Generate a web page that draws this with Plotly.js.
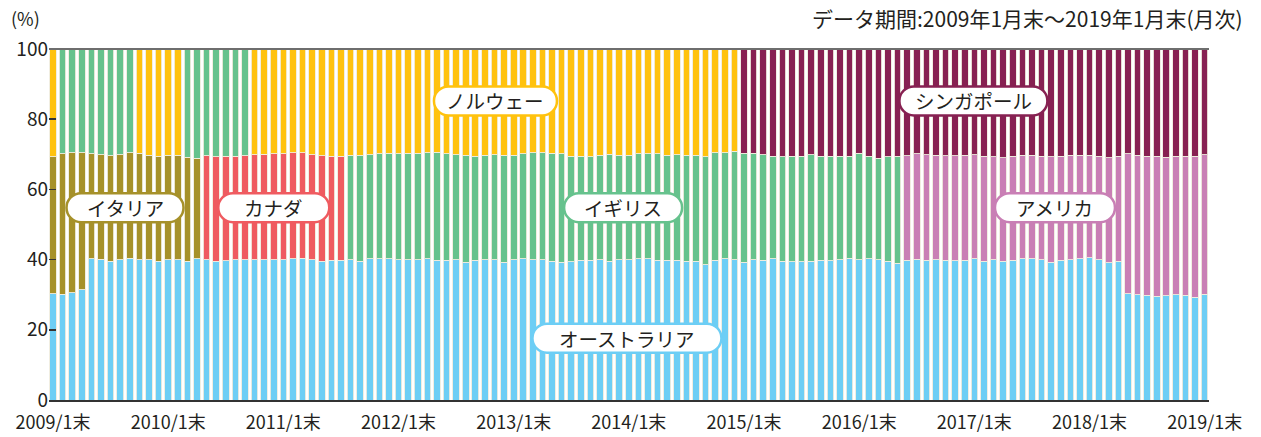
<!DOCTYPE html>
<html>
<head>
<meta charset="utf-8">
<script src="https://cdn.plot.ly/plotly-3.0.1.min.js"></script>
<style>
  html, body { margin: 0; padding: 0; background: #ffffff; }
  #chart { width: 1261px; height: 437px; }
</style>
</head>
<body>
<div id="chart"></div>
<script>
// ---- Data (月次, 2009/1末 〜 2019/1末, 121か月) ----
const countries = ["オーストラリア", "イタリア", "カナダ", "アメリカ", "イギリス", "ノルウェー", "シンガポール"];
const tickLabels = ["2009/1末", "2010/1末", "2011/1末", "2012/1末", "2013/1末", "2014/1末",
                    "2015/1末", "2016/1末", "2017/1末", "2018/1末", "2019/1末"];

// bottom layer: オーストラリア (%)
const australia = [
  30.3, 30.2, 30.5, 31.4, 40.2, 40.1, 39.6, 39.9, 40.4, 39.9, 39.9, 39.6,
  39.9, 39.9, 39.5, 40.2, 39.9, 39.5, 39.7, 39.9, 39.9, 39.9, 39.9, 39.9,
  39.9, 40.2, 40.4, 39.9, 39.6, 39.8, 39.8, 40.0, 39.5, 40.2, 40.2, 40.2,
  40.0, 40.0, 40.0, 40.3, 39.8, 39.8, 40.0, 39.2, 39.8, 40.0, 40.0, 39.3,
  40.0, 40.2, 40.0, 40.0, 39.6, 39.2, 39.4, 39.8, 39.8, 40.0, 39.6, 40.0,
  40.0, 40.2, 40.2, 39.8, 39.8, 39.8, 39.6, 39.5, 38.5, 39.8, 40.2, 40.0,
  39.2, 39.9, 39.8, 40.2, 39.6, 39.4, 39.4, 39.6, 39.8, 39.7, 40.0, 40.4,
  40.0, 40.2, 39.9, 39.6, 39.0, 39.8, 40.1, 39.8, 40.0, 39.8, 39.7, 39.8,
  40.3, 39.5, 40.0, 39.5, 39.8, 40.2, 40.2, 40.0, 39.2, 39.8, 40.0, 40.2,
  40.5, 40.0, 39.1, 39.6, 30.3, 30.0, 29.8, 29.5, 29.7, 30.0, 29.8, 29.3,
  30.2
];
// middle layer (%)
const middleShare = [
  39.0, 39.9, 40.0, 39.0, 29.9, 29.8, 30.0, 30.0, 30.1, 30.4, 29.9, 29.9,
  29.8, 29.9, 29.6, 28.7, 29.7, 29.8, 29.8, 29.6, 29.7, 30.0, 30.1, 30.3,
  30.3, 30.3, 30.1, 30.0, 30.0, 29.7, 29.7, 29.8, 30.2, 29.7, 29.9, 30.1,
  30.1, 30.3, 30.3, 30.2, 30.8, 30.3, 29.9, 30.6, 29.7, 29.7, 29.9, 30.5,
  29.8, 29.9, 30.5, 30.4, 30.7, 30.9, 30.0, 29.7, 29.5, 29.7, 30.4, 29.8,
  29.8, 30.0, 30.0, 30.4, 30.0, 30.1, 30.1, 30.2, 30.8, 30.7, 30.3, 30.8,
  31.1, 30.4, 30.1, 29.3, 29.7, 30.1, 30.1, 30.3, 29.7, 29.8, 29.5, 29.1,
  30.3, 29.3, 29.0, 29.7, 30.4, 29.8, 30.1, 30.1, 29.8, 29.8, 29.9, 30.0,
  29.6, 30.0, 29.3, 29.5, 29.6, 29.5, 29.5, 29.5, 30.1, 29.6, 29.7, 29.6,
  29.2, 29.4, 29.9, 29.8, 39.8, 39.8, 39.7, 39.9, 39.4, 39.5, 39.6, 40.2,
  39.7
];
// top layer (%)
const topShare = [
  30.7, 29.9, 29.5, 29.6, 29.9, 30.1, 30.4, 30.1, 29.5, 29.7, 30.2, 30.5,
  30.3, 30.2, 30.9, 31.1, 30.4, 30.7, 30.5, 30.5, 30.4, 30.1, 30.0, 29.8,
  29.8, 29.5, 29.5, 30.1, 30.4, 30.5, 30.5, 30.2, 30.3, 30.1, 29.9, 29.7,
  29.9, 29.7, 29.7, 29.5, 29.4, 29.9, 30.1, 30.2, 30.5, 30.3, 30.1, 30.2,
  30.2, 29.9, 29.5, 29.6, 29.7, 29.9, 30.6, 30.5, 30.7, 30.3, 30.0, 30.2,
  30.2, 29.8, 29.8, 29.8, 30.2, 30.1, 30.3, 30.3, 30.7, 29.5, 29.5, 29.2,
  29.7, 29.7, 30.1, 30.5, 30.7, 30.5, 30.5, 30.1, 30.5, 30.5, 30.5, 30.5,
  29.7, 30.5, 31.1, 30.7, 30.6, 30.4, 29.8, 30.1, 30.2, 30.4, 30.4, 30.2,
  30.1, 30.5, 30.7, 31.0, 30.6, 30.3, 30.3, 30.5, 30.7, 30.6, 30.3, 30.2,
  30.3, 30.6, 31.0, 30.6, 29.9, 30.2, 30.5, 30.6, 30.9, 30.5, 30.6, 30.5,
  30.1
];
// which country occupies the middle / top layer (runs of months)
const middleRuns = [["イタリア", 16], ["カナダ", 15], ["イギリス", 58], ["アメリカ", 32]];
const topRuns = [["ノルウェー", 1], ["イギリス", 8], ["ノルウェー", 5], ["イギリス", 7],
                 ["ノルウェー", 51], ["シンガポール", 49]];

// ---- Styles ----
const colors = {
  "オーストラリア": "#6dcef5",
  "イタリア": "#a6912a",
  "カナダ": "#ef5b60",
  "アメリカ": "#c97fb5",
  "イギリス": "#66c28d",
  "ノルウェー": "#ffc20e",
  "シンガポール": "#872152"
};
// label boxes: [name, x(month index), y(%), box width px]
const labelBoxes = [
  ["イタリア", 7.5, 54.8, 117],
  ["カナダ", 23.0, 54.8, 111],
  ["ノルウェー", 46.1, 85.2, 123],
  ["イギリス", 59.4, 54.8, 118],
  ["シンガポール", 95.9, 85.2, 148],
  ["アメリカ", 104.4, 54.8, 120],
  ["オーストラリア", 59.8, 17.6, 189]
];

const FONT = "'Noto Sans CJK JP', 'Noto Sans', sans-serif";
const n = australia.length;
const months = Array.from({length: n}, (_, i) => i);

function expandRuns(runs) {
  const out = [];
  runs.forEach(([name, len]) => { for (let k = 0; k < len; k++) out.push(name); });
  return out;
}
const middleWho = expandRuns(middleRuns);
const topWho = expandRuns(topRuns);

const traces = countries.map(name => {
  const y = months.map(i => {
    if (name === "オーストラリア") return australia[i];
    if (middleWho[i] === name) return middleShare[i];
    if (topWho[i] === name) return topShare[i];
    return null;
  });
  return {
    type: "bar",
    name: name,
    x: months,
    y: y,
    marker: { color: colors[name], line: { color: "rgba(240,236,222,0.9)", width: 1 } },
    hoverinfo: "name+y"
  };
});

function pillPath(w, h) {
  const a = w / 2, r = h / 2, k = 0.5523 * r;
  return `M ${-a + r},${-r} L ${a - r},${-r} ` +
         `C ${a - r + k},${-r} ${a},${-k} ${a},0 ` +
         `C ${a},${k} ${a - r + k},${r} ${a - r},${r} ` +
         `L ${-a + r},${r} ` +
         `C ${-a + r - k},${r} ${-a},${k} ${-a},0 ` +
         `C ${-a},${-k} ${-a + r - k},${-r} ${-a + r},${-r} Z`;
}

const shapes = labelBoxes.map(([name, x, y, w]) => ({
  type: "path",
  xref: "x", yref: "y",
  xsizemode: "pixel", ysizemode: "pixel",
  xanchor: x, yanchor: y,
  path: pillPath(w, 29),
  fillcolor: "#ffffff",
  line: { color: colors[name], width: 2.5 },
  layer: "above"
}));
shapes.push({
  type: "line", xref: "paper", yref: "paper",
  x0: 0, x1: 1, y0: 1, y1: 1,
  line: { color: "#6e6e6e", width: 2 }
});

const annotations = labelBoxes.map(([name, x, y]) => ({
  x: x, y: y, xref: "x", yref: "y",
  text: name, showarrow: false,
  font: { family: FONT, size: 19.5, color: "#231f20" },
  xanchor: "center", yanchor: "middle"
}));
annotations.push({
  xref: "paper", yref: "paper", x: 1.031, y: 1.0, yshift: 31,
  xanchor: "right", yanchor: "middle",
  text: "データ期間:2009年1月末～2019年1月末(月次)", showarrow: false,
  font: { family: FONT, size: 21, color: "#231f20" }
});
annotations.push({
  xref: "paper", yref: "paper", x: 0, xshift: -7, y: 1.0, yshift: 31,
  xanchor: "right", yanchor: "middle",
  text: "(%)", showarrow: false,
  font: { family: FONT, size: 18, color: "#231f20" }
});

const layout = {
  width: 1261, height: 437,
  margin: { l: 49, r: 52, t: 49, b: 37, pad: 0 },
  paper_bgcolor: "#ffffff",
  plot_bgcolor: "#ffffff",
  barmode: "stack",
  bargap: 0.31,
  showlegend: false,
  font: { family: FONT, color: "#231f20" },
  xaxis: {
    range: [-0.42, 120.45],
    tickmode: "array",
    tickvals: tickLabels.map((_, j) => j * 12),
    ticktext: tickLabels,
    ticks: "",
    ticklabelstandoff: 6,
    showgrid: false,
    zeroline: false,
    showline: true, linecolor: "#333333", linewidth: 1.5,
    tickfont: { family: FONT, size: 18, color: "#231f20" },
    fixedrange: true
  },
  yaxis: {
    range: [0, 100],
    tickvals: [0, 20, 40, 60, 80, 100],
    ticks: "inside", ticklen: 7, tickwidth: 1.5, tickcolor: "#333333",
    showgrid: false, zeroline: false, showline: false,
    tickfont: { family: FONT, size: 19, color: "#231f20" },
    fixedrange: true
  },
  shapes: shapes,
  annotations: annotations
};

Plotly.newPlot("chart", traces, layout, { displayModeBar: false, staticPlot: true });
</script>
</body>
</html>
